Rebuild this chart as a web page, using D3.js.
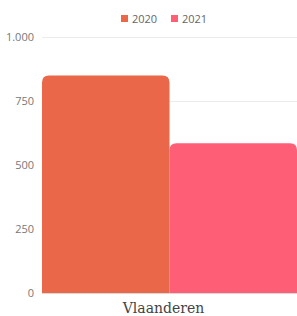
<!DOCTYPE html>
<html>
<head>
<meta charset="utf-8">
<script src="https://cdn.jsdelivr.net/npm/d3@7"></script>
<style>
  body { margin: 0; background: #fff; }
  .tick text { font-family: "Open Sans", sans-serif; font-size: 11px; fill: #777; }
</style>
</head>
<body>
<svg id="chart" width="297" height="316"></svg>
<script>
// data
var categories = ["Vlaanderen"];
var seriesNames = ["2020", "2021"];
var seriesValues = [850, 585];
var colors = ["#EA674A", "#FE5F77"];
var yTicks = [0, 250, 500, 750, 1000];

var svg = d3.select("#chart");
var margin = {top: 37, right: 0, bottom: 23, left: 42};
var width = 297 - margin.left - margin.right;
var height = 316 - margin.top - margin.bottom;

var g = svg.append("g").attr("transform", "translate(" + margin.left + "," + margin.top + ")");

var x0 = d3.scaleBand().domain(categories).range([0, width]).padding(0);
var x1 = d3.scaleBand().domain(seriesNames).range([0, x0.bandwidth()]).padding(0);
var y = d3.scaleLinear().domain([0, 1000]).range([height, 0]);

// grid lines
g.selectAll(".grid")
    .data(yTicks)
    .enter().append("line")
    .attr("class", "grid")
    .attr("x1", 0).attr("x2", width)
    .attr("y1", function(d) { return y(d) + 0.5; })
    .attr("y2", function(d) { return y(d) + 0.5; })
    .attr("stroke", function(d) { return d == 0 ? "#d8d8d8" : "#ebebeb"; })
    .attr("stroke-width", 1);

// y axis labels
var fmt = function(d) { return d3.format(",")(d).replace(",", "."); };
var yAxis = g.append("g")
    .call(d3.axisLeft(y).tickValues(yTicks).tickFormat(fmt).tickSize(0).tickPadding(8));
yAxis.select(".domain").remove();

// rounded-top bars
function topRounded(x, yy, w, h, r) {
    return "M" + x + "," + (yy + h) +
        "V" + (yy + r) +
        "Q" + x + "," + yy + " " + (x + r) + "," + yy +
        "H" + (x + w - r) +
        "Q" + (x + w) + "," + yy + " " + (x + w) + "," + (yy + r) +
        "V" + (yy + h) + "Z";
}

categories.forEach(function(c) {
    g.selectAll(".bar")
        .data(seriesValues)
        .enter().append("path")
        .attr("class", "bar")
        .attr("fill", function(d, i) { return colors[i]; })
        .attr("d", function(d, i) {
            var bx = x0(c) + x1(seriesNames[i]);
            return topRounded(bx, y(d), x1.bandwidth(), height - y(d), 7);
        });
});

// category label
g.selectAll(".cat")
    .data(categories)
    .enter().append("text")
    .attr("class", "cat")
    .attr("x", function(d) { return x0(d) + x0.bandwidth() / 2 - 6; })
    .attr("y", height + 20)
    .attr("text-anchor", "middle")
    .attr("font-family", "DejaVu Serif, serif")
    .attr("font-size", 14)
    .attr("fill", "#444")
    .text(function(d) { return d; });

// legend
var legend = svg.selectAll(".legend")
    .data(seriesNames)
    .enter().append("g")
    .attr("class", "legend")
    .attr("transform", function(d, i) { return "translate(" + (121 + i * 50) + ",14)"; });

legend.append("rect")
    .attr("width", 7).attr("height", 7)
    .attr("y", 1)
    .attr("fill", function(d, i) { return colors[i]; });

legend.append("text")
    .attr("x", 11).attr("y", 8.5)
    .attr("font-family", "Open Sans, sans-serif")
    .attr("font-size", 11)
    .attr("fill", "#666")
    .text(function(d) { return d; });
</script>
</body>
</html>
